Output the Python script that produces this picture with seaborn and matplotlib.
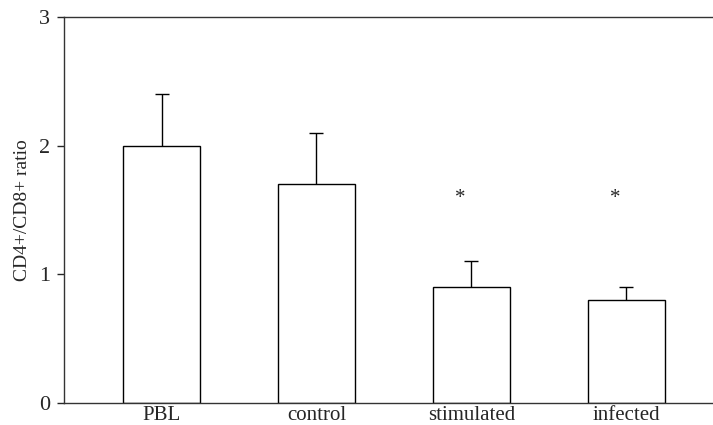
import numpy as np
import pandas as pd
import matplotlib
matplotlib.use("Agg")
import matplotlib.pyplot as plt
import seaborn as sns

groups = ["PBL", "control", "stimulated", "infected"]
ratio = [2.0, 1.7, 0.9, 0.8]
sem = [0.4, 0.4, 0.2, 0.1]
signif = ["", "", "*", "*"]
star_y = 1.59

sns.set_style("ticks")
plt.rcParams['font.family'] = ['Liberation Serif', 'DejaVu Serif']

df = pd.DataFrame({"group": groups, "ratio": ratio})

fig = plt.figure(figsize=(7.13, 4.25), dpi=100)
ax = fig.add_axes([64/713, 22/425, 1 - 64/713, 386/425])

sns.barplot(data=df, x="group", y="ratio", order=groups, color="white",
            edgecolor="black", linewidth=1.0, width=0.5, errorbar=None, ax=ax)

# upper-only error bars
xpos = np.arange(len(groups))
_, caps, _ = ax.errorbar(xpos, ratio, yerr=[np.zeros(len(sem)), sem], fmt="none",
                         ecolor="black", elinewidth=1.0, capsize=5, capthick=1.0)
caps[0].set_visible(False)

for x, s in zip(xpos, signif):
    if s:
        ax.text(x - 0.07, star_y, s, ha="center", va="center", fontsize=15)

ax.set_ylim(0, 3)
ax.set_yticks([0, 1, 2, 3])
ax.set_xlim(-0.63, 3.56)
ax.set_xlabel("")
ax.set_ylabel("CD4+/CD8+ ratio", fontsize=14, labelpad=6)
ax.tick_params(axis="x", length=0, labelsize=15, pad=2)
ax.tick_params(axis="y", length=5, labelsize=16, width=1, pad=5)
for sp in ["left", "bottom", "top"]:
    ax.spines[sp].set_color("#333333")
    ax.spines[sp].set_linewidth(1.0)
ax.spines["right"].set_visible(False)

fig.savefig("out.png", dpi=100)
